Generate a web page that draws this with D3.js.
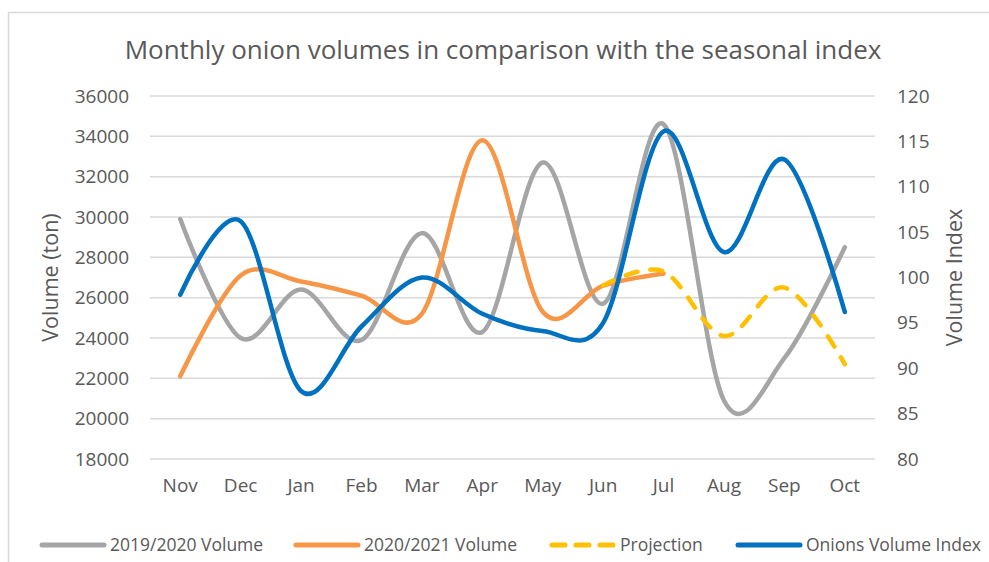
<!DOCTYPE html>
<html>
<head>
<meta charset="utf-8">
<script src="https://cdn.jsdelivr.net/npm/d3@7"></script>
<style>
	body { margin: 0; background: #fff; }
	svg { display: block; font-family: 'Open Sans', sans-serif; }
</style>
</head>
<body>
<div id="chart"></div>
<script>
const months = ['Nov', 'Dec', 'Jan', 'Feb', 'Mar', 'Apr', 'May', 'Jun', 'Jul', 'Aug', 'Sep', 'Oct'];
const vol1920 = [29900, 24000, 26400, 23900, 29200, 24300, 32700, 25700, 34600, 20900, 23000, 28500];
const vol2021 = [22100, 27100, 26800, 26100, 25200, 33800, 25300, 26600, 27200, null, null, null];
const projection = [null, null, null, null, null, null, null, 26600, 27300, 24100, 26500, 22700];
const volIndex = [98.1, 106.2, 87.5, 94.6, 100, 96, 94.1, 95, 116.1, 102.8, 113, 96.2];
const leftTicks = d3.range(18000, 36001, 2000);
const rightTicks = d3.range(80, 121, 5);

const W = 989, H = 562;
const margin = {top: 96, right: 114, bottom: 103, left: 150};

const svg = d3.select('#chart').append('svg')
	.attr('width', W)
	.attr('height', H);

// chart frame
svg.append('rect')
	.attr('x', 8.5).attr('y', 12.5)
	.attr('width', W + 10).attr('height', H + 10)
	.attr('fill', 'none')
	.attr('stroke', '#d9d9d9')
	.attr('stroke-width', 1.5);

const x = d3.scaleBand().domain(months).range([margin.left, W - margin.right]);
const yL = d3.scaleLinear().domain([18000, 36000]).range([H - margin.bottom, margin.top]);
const yR = d3.scaleLinear().domain([80, 120]).range([H - margin.bottom, margin.top]);
const cx = d => x(d) + x.bandwidth() / 2;

// gridlines
svg.append('g')
	.selectAll('line')
	.data(leftTicks)
	.enter()
	.append('line')
	.attr('x1', margin.left).attr('x2', W - margin.right)
	.attr('y1', d => yL(d)).attr('y2', d => yL(d))
	.attr('stroke', '#d9d9d9')
	.attr('stroke-width', 1.5);

// axes text
const axisL = svg.append('g')
	.attr('transform', `translate(${margin.left - 21},0)`)
	.call(d3.axisLeft(yL).tickValues(leftTicks).tickSize(0).tickPadding(0).tickFormat(d3.format('d')));
const axisR = svg.append('g')
	.attr('transform', `translate(${W - margin.right + 22},0)`)
	.call(d3.axisRight(yR).tickValues(rightTicks).tickSize(0).tickPadding(0));
const axisB = svg.append('g')
	.attr('transform', `translate(0,${H - margin.bottom + 17})`)
	.call(d3.axisBottom(x).tickSize(0).tickPadding(0));

[axisL, axisR, axisB].forEach(a => {
	a.select('.domain').remove();
	a.selectAll('text')
		.attr('fill', '#595959')
		.style('font-family', "'Open Sans', sans-serif")
		.style('font-size', '19px');
});
axisB.selectAll('text').attr('dy', '0.85em');

svg.append('text')
	.attr('transform', `translate(50,${(margin.top + H - margin.bottom) / 2}) rotate(-90)`)
	.attr('text-anchor', 'middle')
	.attr('dy', '0.35em')
	.attr('fill', '#595959')
	.style('font-size', '21.5px')
	.text('Volume (ton)');

svg.append('text')
	.attr('transform', `translate(954,${(margin.top + H - margin.bottom) / 2}) rotate(-90)`)
	.attr('text-anchor', 'middle')
	.attr('dy', '0.35em')
	.attr('fill', '#595959')
	.style('font-size', '21.5px')
	.text('Volume Index');

svg.append('text')
	.attr('x', 503).attr('y', 50)
	.attr('text-anchor', 'middle')
	.attr('dy', '0.35em')
	.attr('fill', '#595959')
	.style('font-size', '26px')
	.text('Monthly onion volumes in comparison with the seasonal index');

// series
const series = [
	{name: '2019/2020 Volume', values: vol1920, scale: yL, color: '#a5a5a5', dash: null},
	{name: '2020/2021 Volume', values: vol2021, scale: yL, color: '#f79646', dash: null},
	{name: 'Projection', values: projection, scale: yL, color: '#ffc000', dash: '12,13'},
	{name: 'Onions Volume Index', values: volIndex, scale: yR, color: '#0070c0', dash: null}
];

series.forEach(s => {
	const pts = months.map((m, i) => [m, s.values[i]]).filter(p => p[1] !== null);
	const line = d3.line()
		.x(p => cx(p[0]))
		.y(p => s.scale(p[1]))
		.curve(d3.curveCardinal.tension(0));
	svg.append('path')
		.datum(pts)
		.attr('d', line)
		.attr('fill', 'none')
		.attr('stroke', s.color)
		.attr('stroke-width', 4.5)
		.attr('stroke-linecap', 'round')
		.attr('stroke-linejoin', 'round')
		.attr('stroke-dasharray', s.dash);
});

// legend
const legendX = [42, 296, 552, 738];
const legend = svg.append('g').attr('transform', 'translate(0,545)');
series.forEach((s, i) => {
	const g = legend.append('g').attr('transform', `translate(${legendX[i]},0)`);
	g.append('line')
		.attr('x1', 0).attr('x2', 62)
		.attr('stroke', s.color)
		.attr('stroke-width', 5)
		.attr('stroke-linecap', 'round')
		.attr('stroke-dasharray', s.dash ? '13,11' : null);
	g.append('text')
		.attr('x', 68)
		.attr('dy', '0.35em')
		.attr('fill', '#595959')
		.style('font-size', '17.5px')
		.text(s.name);
});
</script>
</body>
</html>
